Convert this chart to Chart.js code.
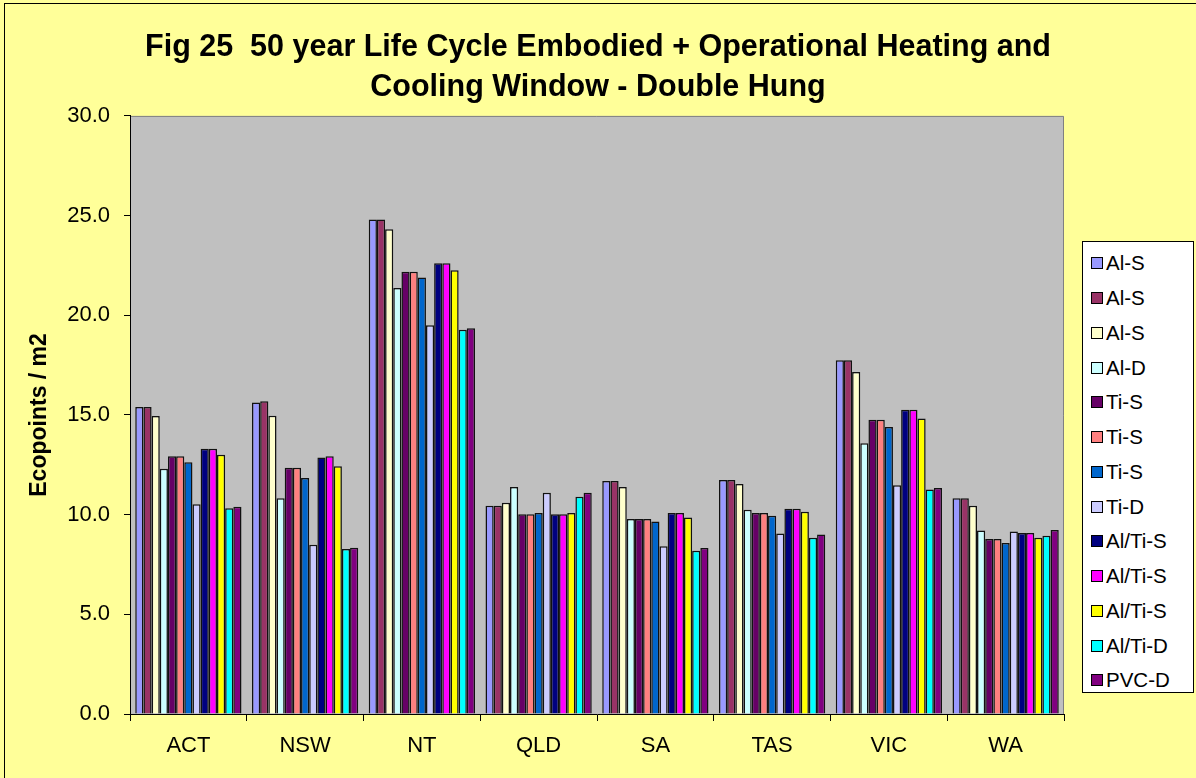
<!DOCTYPE html>
<html lang="en">
<head>
  <meta charset="UTF-8">
  <title>Fig 25 - Double Hung</title>
  <style>
    body {
      margin: 0;
      background: #ffff99;
      font-family: 'Liberation Sans', Arial, sans-serif;
      overflow: hidden;
    }
    .wrap {
      position: relative;
      width: 1196px;
      height: 778px;
    }
    /* outer frame of the chart (only top/left are visible in the source) */
    .frame {
      position: absolute;
      left: 4px;
      top: 3px;
      right: -10px;
      bottom: -10px;
      border-left: 1px solid #000;
      border-top: 1px solid #000;
    }
    #chart {
      position: absolute;
      left: 0;
      top: 0;
    }
    .legend {
      position: absolute;
      left: 1082px;
      top: 241px;
      width: 112px;
      height: 452px;
      background: #fff;
      border: 1px solid #000;
      box-sizing: border-box;
      padding-top: 4px;
    }
    .legend-item {
      height: 34.75px;
      display: flex;
      align-items: center;
      font-size: 20.5px;
      color: #000;
    }
    .legend-item span.box {
      width: 10px;
      height: 10px;
      border: 1px solid #000;
      margin-left: 8px;
      margin-right: 3px;
    }
  </style>
  <script src="https://cdn.jsdelivr.net/npm/chart.js"></script>
</head>
<body>
  <div class="wrap">
    <div class="frame"></div>
    <canvas id="chart" width="1196" height="778"></canvas>
    <div class="legend" id="legend"></div>
  </div>

  <script>
    // categories (states)
    const states = ['ACT', 'NSW', 'NT', 'QLD', 'SA', 'TAS', 'VIC', 'WA'];

    // series values, Ecopoints / m2
    const alS1   = [15.40, 15.63, 24.81, 10.45, 11.69, 11.74, 17.74, 10.82];
    const alS2   = [15.40, 15.69, 24.81, 10.45, 11.69, 11.74, 17.74, 10.82];
    const alS3   = [14.95, 14.96, 24.31, 10.60, 11.39, 11.54, 17.15, 10.45];
    const alD    = [12.30, 10.82, 21.37, 11.39,  9.78, 10.24, 13.58,  9.21];
    const tiS1   = [12.93, 12.35, 22.18, 10.02,  9.78, 10.08, 14.76,  8.78];
    const tiS2   = [12.93, 12.35, 22.18, 10.02,  9.78, 10.08, 14.76,  8.78];
    const tiS3   = [12.63, 11.84, 21.89, 10.08,  9.65,  9.95, 14.39,  8.58];
    const tiD    = [10.52,  8.49, 19.50, 11.10,  8.41,  9.06, 11.47,  9.15];
    const alTiS1 = [13.30, 12.86, 22.61, 10.02, 10.08, 10.30, 15.26,  9.08];
    const alTiS2 = [13.30, 12.93, 22.61, 10.02, 10.08, 10.30, 15.26,  9.08];
    const alTiS3 = [13.00, 12.43, 22.26, 10.08,  9.86, 10.15, 14.82,  8.84];
    const alTiD  = [10.32,  8.28, 19.28, 10.90,  8.19,  8.84, 11.26,  8.94];
    const pvcD   = [10.39,  8.34, 19.35, 11.10,  8.33,  9.00, 11.34,  9.23];

    const seriesNames = ['Al-S', 'Al-S', 'Al-S', 'Al-D', 'Ti-S', 'Ti-S', 'Ti-S', 'Ti-D',
                         'Al/Ti-S', 'Al/Ti-S', 'Al/Ti-S', 'Al/Ti-D', 'PVC-D'];
    const seriesValues = [alS1, alS2, alS3, alD, tiS1, tiS2, tiS3, tiD,
                          alTiS1, alTiS2, alTiS3, alTiD, pvcD];
    const seriesColors = ['#9999ff', '#993366', '#ffffcc', '#ccffff', '#660066', '#ff8080',
                          '#0066cc', '#ccccff', '#000080', '#ff00ff', '#ffff00', '#00ffff', '#800080'];

    // y axis ticks
    const yMin = 0, yMax = 30, yStep = 5;

    const FONT = "'Liberation Sans', Arial, sans-serif";

    // grey plot background with a thin grey frame
    const plotBg = {
      id: 'plotBg',
      beforeDraw(chart) {
        const a = chart.chartArea;
        const ctx = chart.ctx;
        ctx.save();
        ctx.fillStyle = '#c0c0c0';
        ctx.fillRect(a.left, a.top, a.right - a.left, a.bottom - a.top);
        ctx.strokeStyle = '#808080';
        ctx.lineWidth = 1;
        ctx.beginPath();
        ctx.moveTo(a.left, a.top + 0.5);
        ctx.lineTo(a.right - 0.5, a.top + 0.5);
        ctx.lineTo(a.right - 0.5, a.bottom);
        ctx.stroke();
        ctx.restore();
      }
    };

    const datasets = seriesNames.map((name, i) => ({
      label: name,
      data: seriesValues[i],
      backgroundColor: seriesColors[i],
      borderColor: '#111',
      borderWidth: 1.5,
      barPercentage: 1.0,
      categoryPercentage: 0.91
    }));

    new Chart(document.getElementById('chart'), {
      type: 'bar',
      data: { labels: states, datasets: datasets },
      options: {
        responsive: false,
        animation: false,
        devicePixelRatio: 1,
        layout: { padding: 0 },
        plugins: {
          legend: { display: false },
          tooltip: { enabled: false },
          title: {
            display: true,
            text: ['Fig 25  50 year Life Cycle Embodied + Operational Heating and',
                   'Cooling Window - Double Hung'],
            color: '#000',
            font: { family: FONT, size: 30.5, weight: 'bold', lineHeight: 1.31 },
            padding: { top: 28, bottom: 8 }
          }
        },
        scales: {
          x: {
            offset: true,
            grid: { offset: true, drawOnChartArea: false, color: '#000', tickLength: 7 },
            border: { color: '#000' },
            ticks: { color: '#000', font: { family: FONT, size: 22 }, padding: 12 },
            afterFit(scale) { scale.height = 64; }
          },
          y: {
            min: yMin,
            max: yMax,
            ticks: {
              stepSize: yStep,
              color: '#000',
              font: { family: FONT, size: 22 },
              padding: 14,
              callback: v => v.toFixed(1)
            },
            grid: { drawOnChartArea: false, color: '#000', tickLength: 6 },
            border: { color: '#000' },
            title: {
              display: true,
              text: 'Ecopoints / m2',
              color: '#000',
              font: { family: FONT, size: 23, weight: 'bold' },
              padding: { top: 26, bottom: 0 }
            },
            afterFit(scale) { scale.width = 130; }
          },
          // empty right-hand axis that only reserves room for the legend box
          side: {
            axis: 'y',
            position: 'right',
            min: yMin,
            max: yMax,
            grid: { display: false, drawTicks: false },
            border: { display: false },
            ticks: { display: false },
            afterFit(scale) { scale.width = 132; }
          }
        }
      },
      plugins: [plotBg]
    });

    // legend box (HTML, built from the same series arrays)
    const legend = document.getElementById('legend');
    seriesNames.forEach((name, i) => {
      const row = document.createElement('div');
      row.className = 'legend-item';
      const box = document.createElement('span');
      box.className = 'box';
      box.style.background = seriesColors[i];
      row.appendChild(box);
      row.appendChild(document.createTextNode(name));
      legend.appendChild(row);
    });
  </script>
</body>
</html>
